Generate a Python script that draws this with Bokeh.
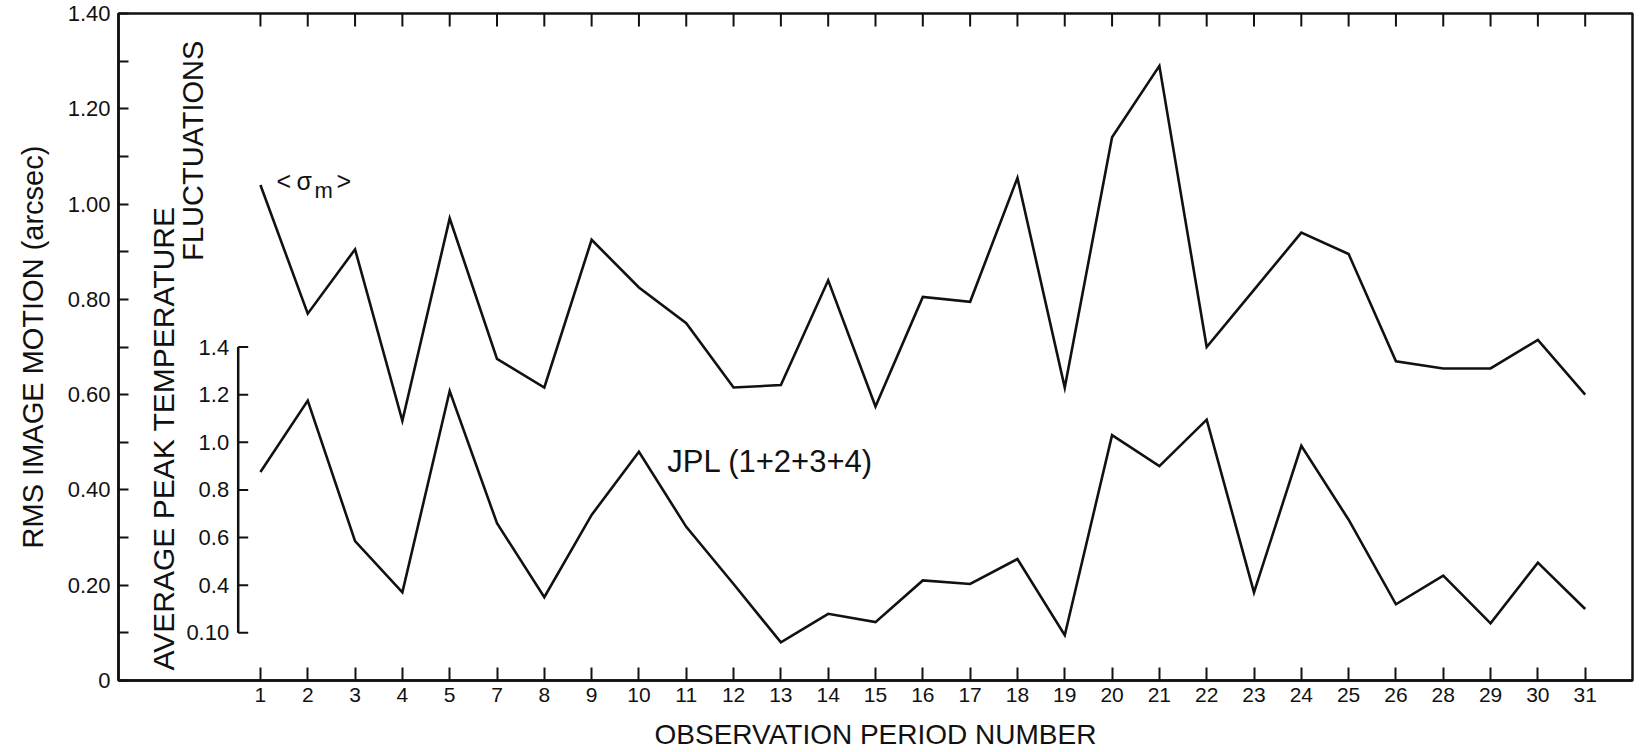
import math

from bokeh.core.properties import value
from bokeh.embed import file_html
from bokeh.models import FixedTicker, NumeralTickFormatter, Range1d
from bokeh.plotting import figure
from bokeh.resources import INLINE

# Observation periods (6 and 27 are missing from the record)
periods = [1, 2, 3, 4, 5, 7, 8, 9, 10, 11, 12, 13, 14, 15, 16, 17, 18, 19, 20,
           21, 22, 23, 24, 25, 26, 28, 29, 30, 31]

# RMS image motion <sigma_m>, arcsec
sigma_m = [1.04, 0.77, 0.905, 0.545, 0.97, 0.675, 0.615, 0.925, 0.825, 0.75,
           0.615, 0.62, 0.84, 0.575, 0.805, 0.795, 1.055, 0.615, 1.14, 1.29,
           0.70, 0.82, 0.94, 0.895, 0.67, 0.655, 0.655, 0.715, 0.60]

# JPL (1+2+3+4) average peak temperature fluctuations
jpl_temp = [0.875, 1.175, 0.585, 0.37, 1.215, 0.66, 0.35, 0.695, 0.96, 0.645,
            0.405, 0.16, 0.28, 0.245, 0.42, 0.405, 0.51, 0.19, 1.03, 0.90,
            1.095, 0.37, 0.985, 0.675, 0.32, 0.44, 0.24, 0.495, 0.30]

rms_ticks = [0, 0.2, 0.4, 0.6, 0.8, 1.0, 1.2, 1.4]
rms_minor = [0.1, 0.3, 0.5, 0.7, 0.9, 1.1, 1.3]
temp_ticks = [0.2, 0.4, 0.6, 0.8, 1.0, 1.2, 1.4]
temp_labels = ["0.10", "0.4", "0.6", "0.8", "1.0", "1.2", "1.4"]

FONT = "Liberation Sans"
INK = "#111111"

x_idx = list(range(len(periods)))
RMS_TOP = rms_ticks[-1]

p = figure(width=1640, height=752,
           x_range=Range1d(-3, len(periods)),
           y_range=Range1d(0, RMS_TOP),
           output_backend="svg", toolbar_location=None,
           min_border_left=118, min_border_right=8,
           min_border_top=13, min_border_bottom=71)
p.extra_y_ranges = {"temp": Range1d(0, 2 * RMS_TOP)}
p.grid.visible = False
p.background_fill_color = "white"
p.border_fill_color = "white"
p.outline_line_color = INK
p.outline_line_width = 2.5
p.outline_line_alpha = 1.0

# main left axis
ya = p.yaxis[0]
ya.ticker = FixedTicker(ticks=rms_ticks, minor_ticks=rms_minor)
ya.formatter = NumeralTickFormatter(format="0.00")
ya.major_label_overrides = {0: "0"}
ya.major_tick_in = 10
ya.major_tick_out = 0
ya.minor_tick_in = 10
ya.minor_tick_out = 0
ya.axis_line_width = 2.5
ya.axis_line_color = INK
ya.major_tick_line_width = 2
ya.minor_tick_line_width = 2
ya.major_tick_line_color = INK
ya.minor_tick_line_color = INK
ya.major_label_text_font = FONT
ya.major_label_text_font_size = "22px"
ya.major_label_text_color = INK
ya.major_label_standoff = 8
ya.axis_label = "RMS IMAGE MOTION (arcsec)"
ya.axis_label_text_font = FONT
ya.axis_label_text_font_size = "29px"
ya.axis_label_text_font_style = "normal"
ya.axis_label_text_color = INK
ya.axis_label_standoff = 16

# bottom axis: one tick per observation period
xa = p.xaxis[0]
xa.ticker = FixedTicker(ticks=x_idx, minor_ticks=[])
xa.major_label_overrides = {i: str(n) for i, n in zip(x_idx, periods)}
xa.major_tick_in = 13
xa.major_tick_out = 0
xa.axis_line_width = 2.5
xa.axis_line_color = INK
xa.major_tick_line_width = 2
xa.major_tick_line_color = INK
xa.major_label_text_font = FONT
xa.major_label_text_font_size = "21px"
xa.major_label_text_color = INK
xa.major_label_standoff = 7
xa.axis_label = "OBSERVATION PERIOD NUMBER"
xa.axis_label_text_font = FONT
xa.axis_label_text_font_size = "28px"
xa.axis_label_text_font_style = "normal"
xa.axis_label_text_color = INK
xa.axis_label_standoff = 14

# top edge carries the same period ticks, pointing down into the frame
p.ray(x=x_idx, y=[RMS_TOP] * len(x_idx), length=13, length_units="screen",
      angle=-math.pi / 2, line_color=INK, line_width=2)

# inner temperature-fluctuation scale drawn inside the frame
spine_x = -0.47
p.segment(x0=[spine_x], y0=[temp_ticks[0]], x1=[spine_x], y1=[temp_ticks[-1]],
          y_range_name="temp", line_color=INK, line_width=2.5)
p.ray(x=[spine_x] * len(temp_ticks), y=temp_ticks, length=10,
      length_units="screen", angle=0, y_range_name="temp",
      line_color=INK, line_width=2)
p.text(x=[spine_x] * len(temp_ticks), y=temp_ticks, text=temp_labels,
       x_offset=-9, text_align="right", text_baseline="middle",
       text_font=value(FONT), text_font_size="22px", text_color=INK,
       y_range_name="temp")
p.text(x=[-2.05], y=[0.508], text=["AVERAGE PEAK TEMPERATURE"],
       angle=math.pi / 2, text_align="center", text_baseline="middle",
       text_font=value(FONT), text_font_size="30px", text_color=INK)
p.text(x=[-1.42], y=[1.112], text=["FLUCTUATIONS"],
       angle=math.pi / 2, text_align="center", text_baseline="middle",
       text_font=value(FONT), text_font_size="29px", text_color=INK)

# data series
p.line(x_idx, sigma_m, line_color=INK, line_width=2.6, line_join="miter")
p.line(x_idx, jpl_temp, y_range_name="temp", line_color=INK, line_width=2.6,
       line_join="miter")

# series labels
p.text(x=[0.34] * 3, y=[1.049] * 3, text=["<", "σ", ">"],
       x_offset=[0, 20, 60], text_align="left", text_baseline="middle",
       text_font=value(FONT), text_font_size="25px", text_color=INK)
p.text(x=[0.34], y=[1.049], text=["m"], x_offset=[38], y_offset=[10],
       text_align="left", text_baseline="middle",
       text_font=value(FONT), text_font_size="22px", text_color=INK)
p.text(x=[8.6], y=[0.919], text=["JPL (1+2+3+4)"], y_range_name="temp",
       text_align="left", text_baseline="middle",
       text_font=value(FONT), text_font_size="31px", text_color=INK)

open("out.html", "w").write(file_html(p, INLINE))
